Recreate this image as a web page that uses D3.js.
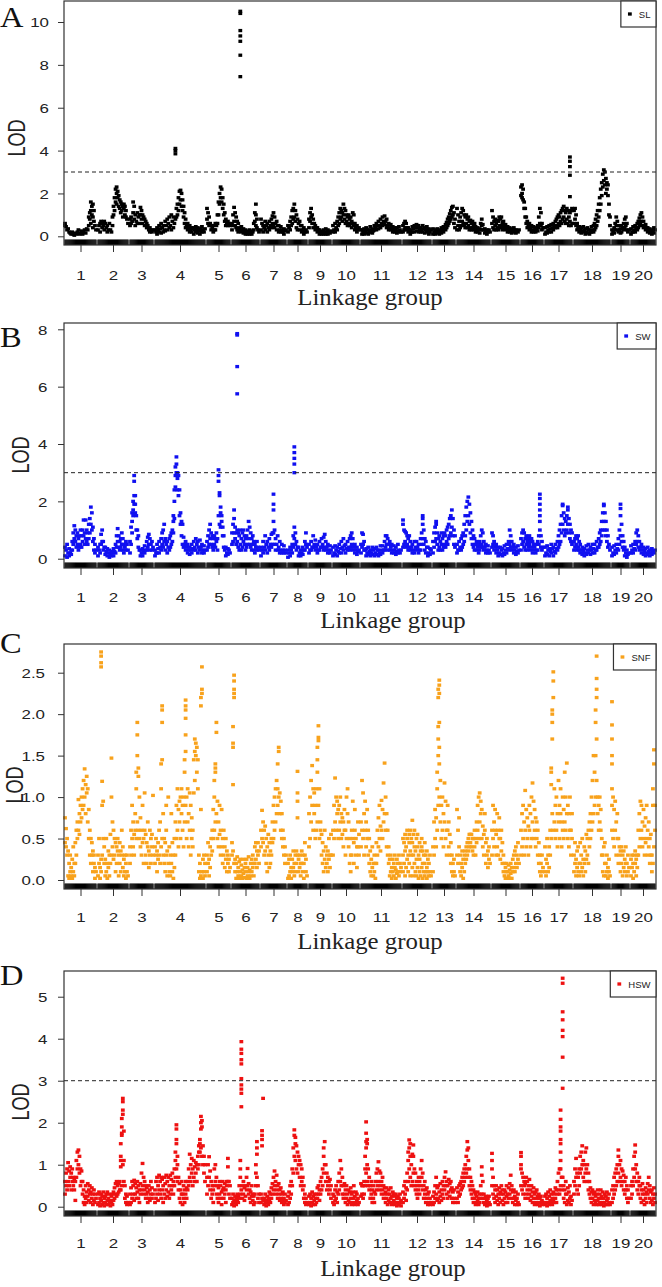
<!DOCTYPE html>
<html><head><meta charset="utf-8">
<script src="https://cdn.jsdelivr.net/npm/d3@7"></script>
<style>body{margin:0;background:#fff}svg{display:block}</style>
</head><body>
<svg id="chart" width="662" height="1287"></svg>
<script>
// ---------------- DATA ----------------
const linkageGroups = ["1","2","3","4","5","6","7","8","9","10","11","12","13","14","15","16","17","18","19","20"];
const groupLengths = [31,30,23,50,23,27,25,19,22,26,40,28,22,33,27,22,27,36,17,24];
const lodThreshold = 3;
const yTicksSL = [0,2,4,6,8,10];
const yTicksSW = [0,2,4,6,8];
const yTicksSNF = [0,0.5,1,1.5,2,2.5];
const yTicksHSW = [0,1,2,3,4,5];

// each linkage group: marker positions in order; an inner list = several markers at one position
const lodSL = [
[[0.6,0.5],0.45,0.3,0.35,0.2,0.15,0.1,0.2,0.1,0.05,0.15,0.1,0.2,0.3,0.1,0.15,0.25,0.1,0.2,0.3,0.15,0.35,0.3,[0.5,0.9],[0.8,1.1],[1.2,1.6,0.6],[1.4,1.0],[1.5,0.9,0.4],[1.2,0.7],0.5,0.3],
[0.3,0.5,[0.2,0.6],0.7,[0.4,0.6],0.5,[0.3,0.7],0.6,0.4,[0.2,0.5],0.3,0.6,0.3,0.2,[0.5,0.9],[1.0,1.4],[1.2,1.8],[1.6,2.2],[2.0,2.3,1.5],[1.8,2.1],[1.4,1.9],[1.3,1.7],[1.1,1.6],[1.2,1.5],[0.9,1.4],[1.3,1.5],[1.0,1.4],[0.9,1.2],0.8,0.6],
[[0.5,0.8],[0.6,0.9],0.7,[1.1,1.6],[0.8,1.4],[0.5,1.0],0.7,[0.6,1.1],0.9,[0.6,1.0],[1.0,1.35],[0.8,1.2],[0.6,1.0],0.9,[0.5,0.8],0.7,[0.4,0.6],0.5,0.3,[0.2,0.4],0.3,0.2,0.3],
[0.3,0.2,[0.1,0.4],0.3,[0.2,0.5],0.35,[0.15,0.6],0.4,[0.2,0.5],0.3,[0.25,0.7],0.5,[0.3,0.8],0.6,[0.4,0.9],0.5,[0.3,1.0],0.7,[0.4,0.9],0.6,[0.8,4.1,4.0,3.85],[0.9,1.3],[1.0,1.5],[1.2,1.8],[1.5,2.1],[1.7,2.15],[1.4,2.0],[1.2,1.7],[0.9,1.4],[0.6,1.1],[0.4,0.8],0.5,[0.3,0.6],0.4,[0.2,0.5],0.3,[0.2,0.4],0.35,[0.1,0.4],0.3,[0.2,0.45],0.3,[0.15,0.4],0.25,[0.1,0.35],0.3,[0.2,0.45],0.3,0.2,0.35],
[[0.8,1.3],[0.6,1.1],[0.5,0.9],0.6,[0.3,0.5],0.4,[0.2,0.5],0.3,[0.3,0.6],0.5,[0.6,1.0],[1.0,1.6],[1.5,2.0],[1.8,2.3],[1.6,2.2],[1.3,1.8],[1.0,1.5],[0.7,1.1],[0.5,0.8],0.6,[0.5,0.7],0.6,0.5],
[[0.3,0.6],[0.5,1.0],[0.7,1.35],[0.5,1.1],[0.4,0.9],[0.3,0.7],[0.2,0.6],0.4,[10.5,10.4,9.6,9.35,9.1,8.45,7.45,0.3],[0.2,0.45],0.3,[0.15,0.35],0.2,[0.1,0.3],0.2,[0.1,0.25],0.15,[0.1,0.3],0.2,[0.1,0.25],0.2,[0.3,0.6],[0.7,1.1],[1.0,1.5,0.5],[0.4,0.8],0.3,0.2],
[[0.3,0.8],0.6,[0.2,0.5],0.4,[0.3,0.7],0.5,[0.2,0.6],0.4,[0.3,0.7],0.5,[0.4,0.8],[0.6,0.95],[0.5,1.1],[0.4,0.9],0.6,[0.3,0.7],0.5,[0.2,0.5],0.3,[0.2,0.45],0.3,0.2,[0.1,0.35],0.25,0.3],
[[0.2,0.5],0.4,[0.3,0.7],[0.5,0.9],[0.6,1.2],[0.8,1.3],[0.9,1.5],[0.7,1.2],[0.4,1.0],[0.3,0.8],0.6,[0.3,0.7],0.5,[0.2,0.5],0.3,[0.1,0.4],0.2,0.3,0.2],
[[0.4,0.8],[0.7,1.1],[0.9,1.3],[0.6,1.0],[0.4,0.8],0.6,[0.3,0.5],0.4,[0.2,0.4],0.3,[0.1,0.3],0.2,[0.1,0.25],0.15,[0.1,0.3],0.2,[0.1,0.35],0.2,[0.1,0.3],0.2,0.15,0.25],
[[0.2,0.5],0.3,[0.2,0.6],0.4,[0.3,0.7],[0.5,0.9],[0.6,1.1],[0.8,1.3],[0.9,1.2],[0.7,1.1],[1.0,1.5],[0.8,1.3],[0.6,1.2],[0.7,1.0],[0.5,0.9],[0.6,1.0],[0.5,0.8],[0.6,0.9],[0.4,0.7],[0.6,1.1],[0.5,1.0],[0.3,0.6],0.4,[0.2,0.5],0.3,0.4],
[0.3,[0.1,0.3],0.2,[0.1,0.35],0.25,[0.15,0.4],0.3,[0.1,0.3],0.2,[0.2,0.45],0.3,[0.15,0.35],0.25,[0.3,0.5],0.4,[0.3,0.6],0.5,[0.35,0.7],0.5,[0.4,0.8],0.6,[0.5,0.9],0.7,[0.55,0.95],0.7,[0.4,0.8],0.5,[0.3,0.6],0.4,[0.3,0.55],0.4,[0.2,0.45],0.3,[0.2,0.4],0.3,[0.15,0.4],0.25,[0.2,0.45],0.3,0.2],
[[0.2,0.5],[0.3,0.6],[0.4,0.7],[0.3,0.6],0.4,[0.2,0.4],0.3,[0.1,0.3],0.2,[0.2,0.45],0.35,[0.2,0.5],0.4,[0.25,0.55],0.4,[0.2,0.5],0.3,[0.2,0.4],0.3,[0.2,0.5],0.35,[0.15,0.4],0.3,[0.2,0.45],0.3,[0.1,0.35],0.2,0.3],
[[0.1,0.35],0.2,[0.1,0.3],0.2,[0.15,0.35],0.25,[0.1,0.3],0.2,[0.15,0.4],0.3,[0.2,0.45],0.35,[0.3,0.55],[0.4,0.65],[0.5,0.8],[0.6,0.9],[0.7,1.05],[0.8,1.2],[0.9,1.35],[1.0,1.4],[0.6,1.1],[0.4,0.8]],
[[0.3,1.3],[0.5,1.0],[0.3,0.7],[0.4,0.9],[0.5,1.1],[0.7,1.3],[0.6,1.2],[0.5,1.0],[0.4,0.9],[0.6,1.0],[0.4,0.8],[0.5,0.9],[0.3,0.7],[0.4,0.75],[0.3,0.6],[0.4,0.7],[0.3,0.5],[0.4,0.6],[0.2,0.45],0.3,[0.2,0.4],0.3,[0.15,0.35],[0.3,0.6],[0.5,0.8],[0.3,0.55],0.3,[0.15,0.35],0.25,[0.1,0.3],0.2,0.3,0.2],
[[0.6,1.2],[0.4,0.9],[0.3,0.7],[0.5,0.8],[0.3,0.6],[0.4,0.75],[0.3,0.7],[0.5,0.9],[0.4,0.8],[0.5,0.9],[0.3,0.65],[0.4,0.7],0.5,[0.3,0.55],0.4,[0.2,0.45],0.3,[0.2,0.4],0.3,[0.15,0.35],0.25,[0.2,0.4],0.3,[0.15,0.3],0.25,0.2,0.3],
[[1.9,2.3],[2.0,2.4,1.8],[1.7,2.2],[1.3,1.6],[0.9,1.3],[0.6,0.9],[0.4,0.7],0.5,[0.3,0.6],0.4,[0.2,0.5],0.3,[0.2,0.45],0.3,[0.2,0.4],0.3,[0.25,0.5],[0.4,0.9],[0.6,1.3],[0.5,1.1],[0.3,0.6],0.4],
[[0.1,0.4],0.2,[0.15,0.45],0.3,[0.2,0.5],0.35,[0.2,0.55],0.4,[0.3,0.6],0.5,[0.4,0.7],[0.5,0.8],[0.4,0.9],[0.6,1.0],[0.5,0.9],[0.7,1.1],[0.6,1.2],[0.8,1.3],[0.9,1.4],[0.7,1.2],[0.6,1.1],[0.8,1.3],[0.6,1.2],[0.5,0.9],[0.7,1.1,1.85,2.85,3.25,3.5,3.7],[0.5,1.2],[0.6,1.3]],
[[0.6,1.2],[0.8,1.3],[0.5,1.0],[0.3,0.6],0.4,[0.2,0.45],0.3,[0.15,0.4],0.25,[0.2,0.45],0.3,[0.1,0.35],0.2,[0.15,0.4],0.3,[0.1,0.3],0.2,[0.2,0.45],0.3,[0.2,0.5],[0.3,0.6],[0.4,0.8],[0.5,1.0],[0.7,1.2],[0.9,1.5],[1.2,1.8],[1.5,2.2],[1.9,2.5],[2.3,2.9],[2.6,3.1],[2.4,3.0],[2.0,2.7],[2.2,2.5],[1.9,2.4],[1.0,1.5],[0.5,0.9]],
[[0.1,0.3],0.2,[0.15,0.4],[0.3,0.6],[0.5,0.9],[0.3,0.7],[0.2,0.5],0.3,[0.15,0.35],[0.2,0.5],0.4,[0.3,0.6],[0.4,0.8],[0.5,0.9],[0.3,0.6],0.2,0.3],
[[0.1,0.35],0.2,[0.2,0.45],0.3,[0.2,0.5],0.4,[0.3,0.6],[0.4,0.7],[0.5,0.85],[0.6,1.0],[0.7,1.1],[0.5,0.9],[0.4,0.7],0.5,[0.3,0.55],0.4,[0.2,0.4],0.3,[0.15,0.35],0.25,[0.1,0.3],0.2,[0.15,0.4],0.3]
];

const lodSW = [
[[0.1,0.4],0.3,[0.05,0.5],0.2,[0.1,0.35],0.2,[0.15,0.3],[0.3,0.6],[0.5,0.9],[0.7,1.15],[0.6,1.0],[0.4,0.8],[0.5,0.9],[0.3,0.7],[0.4,0.8],[0.5,1.0],[0.4,0.8],[0.6,1.0],[0.8,1.35],[0.5,0.9],[0.7,1.35],[0.6,1.0],[0.5,0.9],[0.7,1.2],[0.9,1.4],[1.2,1.8],[1.0,1.6],[0.6,1.1],[0.3,0.7],[0.2,0.5],0.3],
[[0.1,0.4],0.3,[0.2,0.5],[0.5,0.85],[0.6,1.0],[0.3,0.6],0.4,[0.15,0.4],0.25,[0.1,0.35],0.2,[0.05,0.3],0.15,[0.1,0.25],0.2,[0.1,0.35],0.25,[0.2,0.5],[0.4,0.8],[0.6,1.05],[0.4,0.8],[0.3,0.6],[0.4,0.7],[0.5,0.9],[0.3,0.7],[0.2,0.5],0.4,[0.3,0.6],0.5,0.3],
[[0.2,0.6],[0.5,1.1],[0.9,1.6,1.3],[1.5,2.0,1.7],[1.9,2.9,2.7,2.2],[1.6,2.2,1.9],[1.0,1.5],[0.7,1.0],[0.4,0.8],0.3,[0.1,0.3],0.2,[0.1,0.35],0.25,[0.2,0.45],0.3,[0.3,0.6],[0.4,0.75],[0.5,0.85],[0.3,0.7],0.5,[0.3,0.6],0.4],
[[0.1,0.3],0.2,[0.2,0.5],0.35,[0.2,0.6],0.4,[0.3,0.7],[0.5,0.9],[0.4,1.0],[0.6,1.2],[0.3,0.7],0.5,[0.2,0.6],0.4,[0.3,0.7],[0.4,0.8],[0.5,0.9],[0.6,1.0],[0.9,1.5,1.3],[1.4,2.4,2.0],[2.5,3.2,2.9],[3.0,3.55,3.3],[2.4,3.0,2.8],[2.2,2.9],[1.5,2.4],[1.2,1.6],[0.8,1.3],[0.5,1.2],[0.4,0.75],0.5,[0.3,0.6],0.4,[0.2,0.5],0.3,[0.15,0.4],0.3,[0.2,0.5],0.35,[0.3,0.6],0.4,[0.3,0.7],0.5,[0.2,0.6],0.4,[0.3,0.65],0.4,[0.2,0.5],0.3,[0.2,0.45],0.3],
[[0.3,0.6],[0.4,0.8],[0.5,1.0],[0.7,1.2],[0.5,0.9],[0.4,0.8],[0.3,0.7],[0.5,0.8],[0.4,0.7],[0.6,0.9],[0.3,0.7],[1.5,3.1,2.9,2.7],[1.2,2.3,2.2],[1.1,1.8,1.6],[1.3,1.5],[0.8,1.1],[0.4,0.8],0.3,[0.1,0.4],0.2,[0.15,0.35],0.3,0.2],
[[0.5,0.9],[0.6,1.2],[0.9,1.7,1.4],[0.7,1.1],[0.5,0.9],[0.6,1.0,5.75,6.7,7.8,7.85],[0.4,0.9],[0.3,0.8],[0.5,1.0],[0.3,0.7],[0.4,0.9],[0.6,1.0],[0.5,0.8],[0.3,0.7],[0.4,0.8],[0.5,1.0],[0.7,1.3],[0.5,1.1],[0.4,0.9],[0.3,0.7],[0.5,0.8],[0.3,0.6],[0.2,0.5],0.4,[0.3,0.6],0.4,0.3],
[[0.1,0.4],0.3,[0.2,0.6],0.4,[0.3,0.8],0.5,[0.2,0.6],0.4,[0.3,0.7],0.5,[0.4,0.85],[0.5,0.9],[0.9,1.3,1.7,1.9,2.25],[0.5,1.0],[0.3,0.7],0.5,[0.3,0.8],0.4,[0.2,0.6],0.3,[0.2,0.5],0.3,[0.2,0.45],0.3,0.2],
[[0.05,0.3],0.2,[0.1,0.4],0.3,[0.2,0.5],[0.4,0.8],[0.7,1.1,3.0,3.3,3.5,3.7,3.9],[0.5,0.9],[0.3,0.6],0.4,[0.1,0.4],0.2,[0.1,0.3],0.2,[0.15,0.4],0.3,[0.3,0.6],[0.5,0.9],0.4],
[[0.2,0.5],0.3,[0.3,0.6],0.4,[0.4,0.8],0.5,[0.3,0.65],0.4,[0.2,0.5],0.3,[0.3,0.6],0.4,[0.4,0.7],0.5,[0.3,0.75],[0.4,0.85],[0.3,0.6],0.4,[0.2,0.5],0.3,[0.2,0.45],0.3],
[[0.1,0.4],0.2,[0.15,0.45],0.3,[0.1,0.4],0.25,[0.2,0.5],0.35,[0.2,0.6],0.4,[0.3,0.7],0.45,[0.2,0.5],0.35,[0.3,0.6],0.4,[0.3,0.7],[0.4,0.8],[0.5,0.9],[0.3,0.7],0.4,[0.2,0.5],0.3,[0.15,0.4],0.25,0.3],
[[0.2,0.5],[0.4,0.9],[0.5,0.85],[0.3,0.6],0.3,[0.1,0.35],0.2,[0.15,0.4],0.25,[0.1,0.3],0.2,[0.15,0.4],0.3,[0.1,0.35],0.2,[0.15,0.4],0.3,[0.1,0.3],0.2,[0.15,0.45],0.3,[0.2,0.45],0.3,[0.3,0.6],[0.4,0.8],[0.5,0.8],[0.3,0.7],0.5,[0.3,0.6],0.4,[0.2,0.5],0.3,[0.2,0.45],0.3,[0.15,0.4],0.25,[0.2,0.5],0.3,0.2,0.3],
[[0.4,1.35,1.2],[0.5,1.0],[0.6,0.95],[0.4,0.9],[0.5,0.8],[0.3,0.7],[0.4,0.8],[0.3,0.6],0.4,[0.2,0.5],0.3,[0.2,0.6],0.4,[0.3,0.6],0.4,[0.2,0.5],0.3,[0.3,0.7],[0.5,0.9],[0.7,1.5,1.4,1.2],[0.5,1.0],[0.3,0.7],[0.2,0.6],0.4,[0.1,0.4],0.2,[0.15,0.35],0.3],
[[0.2,0.6],[0.4,0.9],[0.6,1.1],[0.7,1.3,1.2],[0.5,0.9],[0.3,0.7],[0.4,0.8],[0.3,0.6],[0.5,0.9],[0.3,0.7],[0.4,0.8],[0.5,0.9],[0.4,0.8],[0.6,1.0],[0.5,1.1],[0.7,1.2],[0.8,1.4],[0.9,1.5],[1.1,1.7],[0.8,1.4],[0.5,1.0],[0.4,0.8]],
[[0.2,0.5],0.3,[0.3,0.6],0.4,[0.3,0.7],[0.4,0.8],[0.5,0.9],[0.6,1.2],[0.8,1.5],[1.0,1.8],[1.3,2.0],[1.5,2.15],[1.2,1.9],[0.9,1.6],[0.7,1.3],[0.5,1.0],[0.4,0.8],[0.3,0.7],0.5,[0.3,0.6],0.4,[0.2,0.5],[0.3,0.6],[0.4,0.8],[0.5,1.0],[0.4,0.9],[0.3,0.6],0.4,[0.2,0.5],0.3,[0.2,0.45],0.3,0.2],
[[0.4,0.9],[0.5,0.8],[0.3,0.6],0.4,[0.2,0.5],0.3,[0.1,0.4],0.2,[0.15,0.4],0.3,[0.1,0.35],0.2,[0.15,0.45],0.3,[0.2,0.5],0.35,[0.3,0.6],[0.5,1.0],[0.4,0.8],[0.3,0.6],0.4,[0.2,0.5],0.3,[0.15,0.4],0.25,[0.2,0.45],0.3],
[[0.3,0.7],[0.5,0.9],[0.6,1.0],[0.4,0.9],[0.3,0.7],[0.5,0.8],[0.3,0.6],[0.4,0.7],[0.5,0.8],[0.3,0.6],[0.4,0.7],[0.2,0.6],[0.3,0.5],0.4,[0.2,0.5],0.3,[0.3,0.6],[0.5,0.8],[1.0,1.3,1.5,1.7,1.9,2.1,2.25],[0.4,0.8],[0.3,0.6],0.4],
[[0.1,0.4],0.2,[0.15,0.45],0.3,[0.1,0.35],0.25,[0.2,0.5],0.35,[0.1,0.4],0.25,[0.2,0.5],0.35,[0.3,0.6],[0.4,0.8],[0.5,1.0],[0.6,1.2],[0.9,1.5],[1.2,1.9,1.85],[1.0,1.6],[0.8,1.4],[0.9,1.3],[1.0,1.5],[1.2,1.8,1.7],[0.9,1.4],[0.7,1.2],[0.6,1.0],[0.5,0.9]],
[[0.3,0.6],[0.4,0.7],[0.5,0.8],[0.3,0.7],[0.4,0.8],[0.3,0.6],[0.2,0.5],0.3,[0.15,0.4],0.25,[0.1,0.35],0.2,[0.15,0.45],0.3,[0.2,0.5],0.3,[0.15,0.4],0.3,[0.2,0.5],0.35,[0.2,0.5],0.3,[0.3,0.6],0.4,[0.4,0.7],[0.5,0.9],[0.6,1.0],[0.8,1.3],[1.0,1.6],[1.3,1.9,1.85],[1.0,1.6],[0.8,1.3],[0.6,1.0],[0.4,0.8],0.5,0.3],
[[0.1,0.4],0.2,[0.15,0.45],0.3,[0.2,0.5],0.35,[0.3,0.7],[0.5,1.0],[0.8,1.5,1.9,1.75],[0.6,1.2],[0.4,0.8],[0.3,0.6],[0.1,0.4],0.2,[0.05,0.3],0.15,0.2],
[[0.2,0.45],0.3,[0.2,0.5],0.35,[0.3,0.6],[0.5,0.9],[0.6,1.0],[0.4,0.8],[0.3,0.6],0.4,[0.2,0.5],0.3,[0.15,0.4],0.25,[0.1,0.35],0.2,[0.15,0.4],0.25,[0.1,0.3],0.2,[0.15,0.35],0.25,0.2,0.3]
];

const lodSNF = [
[[0.45,0.75],[0.4,0.62],[0.3,0.5],[0.05,0.35],[0.02,0.2],[0.1,0.3],[0.05,0.15],[0.02,0.25],[0.1,0.4],[0.05,0.2],[0.2,0.45],[0.3,0.6],[0.5,0.7],[0.6,0.97],[0.55,0.8],[0.7,0.9],[0.75,1.0],[0.85,1.1],[0.9,1.2],[1.0,1.34],[0.8,1.15],[1.05,1.25],[0.7,1.1],[0.5,0.85],[0.3,0.6],[0.2,0.5],[0.3,0.45],[0.1,0.35],[0.2,0.3],[0.02,0.15],0.1],
[[0.05,0.3],[0.2,0.5],[0.02,0.15],[0.1,0.25,2.57,2.62,2.7,2.75],[0.3,0.9,1.19],[0.5,0.95],[0.2,0.4],[0.05,0.25],[0.1,0.5],[0.02,0.2],[0.15,0.35],[0.05,0.3],[0.2,0.55],[0.3,1.0,1.47],[0.4,0.7],[0.25,0.6],[0.3,0.5],[0.1,0.45],[0.2,0.4],[0.35,0.5],[0.05,0.3],[0.2,0.45],[0.1,0.35],[0.3,0.6],[0.15,0.4],[0.05,0.25],[0.1,0.3],[0.02,0.2],[0.1,0.3],0.05],
[[0.2,0.4],[0.3,0.6],[0.5,0.9],[0.4,0.7],[0.3,0.55],[0.6,0.8],[0.5,1.1,1.3],[0.7,1.5,1.75,1.9],[0.6,1.25,1.35],[0.5,1.0],[0.4,0.75],[0.3,0.6],[0.45,0.9],[0.2,0.5],[0.6,1.05],[0.3,0.55],[0.2,0.45],[0.4,0.7],[0.15,0.35],[0.3,0.6],[0.2,0.5],[0.4,0.55],[0.3,1.02]],
[[0.2,0.4],[0.3,0.5],[0.1,0.35],[0.25,0.45],[0.3,0.6],[0.2,0.7],[0.4,1.1,1.4],[0.5,1.45,1.9,2.05,2.1],[0.3,0.8],[0.2,0.5],[0.1,0.45],[0.3,0.6,0.9],[0.05,0.35],[0.2,1.0],[0.1,0.4],[0.05,0.3],[0.2,0.8],[0.1,0.45],[0.02,0.3],[0.15,0.5],[0.3,0.7],[0.5,0.9],[0.6,1.1],[0.4,0.85],[0.7,0.95],[0.5,1.0],[0.8,1.1],[0.6,0.9],[0.4,1.0],[0.7,1.3,1.45],[0.9,1.55,1.75,1.95,2.05,2.1,2.17],[0.5,1.0],[0.7,1.1],[0.4,0.8],[0.6,1.05],[0.3,0.9],[0.5,0.75],[0.4,0.6],[1.05,1.45],[1.2,1.55,1.7],[1.5,1.65],[1.3,1.6],[1.1,1.45],[0.1,0.3],[0.02,0.2],[0.05,0.85,2.1,2.2],[0.1,2.25,2.3,2.57],[0.02,0.25],[0.1,0.3],[0.05,0.2]],
[[0.1,0.3],[0.2,0.45],[0.05,0.25],[0.15,0.4],[0.3,0.5],[0.35,0.6],[0.5,0.85],[0.6,1.0,1.2],[0.7,1.3,1.35,1.4],[0.8,1.78,1.9],[0.5,0.95],[0.4,0.7],[0.55,0.9],[0.3,0.6],[0.4,0.85],[0.2,0.5],[0.3,0.6],[0.15,0.4],[0.25,0.5],[0.1,0.35],[0.2,0.3],[0.1,0.25],0.15],
[[0.3,0.45],[0.35,1.15,1.6,1.65,1.85],[0.2,2.2,2.25,2.3,2.4,2.47],[0.1,0.25],[0.02,0.2],[0.1,0.28],[0.05,0.15],[0.02,0.22],[0.1,0.25],[0.05,0.18],[0.02,0.12],[0.08,0.25],[0.03,0.15],[0.1,0.2],[0.02,0.25],[0.05,0.15],[0.1,0.28],[0.02,0.12],[0.05,0.2],[0.1,0.25],[0.15,0.3],[0.05,0.2],[0.2,0.4],[0.25,0.45],[0.15,0.35],[0.3,0.45],[0.2,0.35]],
[[0.4,0.6],[0.5,0.84],[0.45,0.7],[0.3,0.6],[0.35,0.65],[0.2,0.5],[0.1,0.4],[0.3,0.55],[0.15,0.45],[0.2,0.35],[0.3,0.5],[0.45,0.7],[0.5,0.9],[0.6,1.0],[0.7,1.1],[0.8,1.2],[0.9,1.1,1.4],[1.0,1.55,1.6],[0.8,1.05],[0.6,0.95],[0.5,0.8],[0.4,0.6],[0.3,0.5],[0.2,0.4],0.3],
[[0.02,0.2],[0.05,0.25],[0.1,0.3],[0.02,0.15],[0.1,0.25],[0.15,0.35],[0.05,0.2],[0.1,0.3],[0.2,0.35],[0.3,0.75,0.95,1.05,1.31],[0.1,0.25],[0.15,0.3],[0.05,0.2],[0.2,0.35],[0.1,0.3],[0.02,0.2],[0.3,0.45],[0.1,0.25],0.05],
[[0.4,0.8],[0.5,1.0],[0.7,1.2],[0.9,1.38],[0.6,1.1],[0.8,1.05],[0.5,0.9],[0.6,1.1],[0.7,1.3,1.45,1.6],[0.9,1.68,1.72,1.86],[0.5,1.1],[0.6,0.7],[0.3,0.55],[0.2,0.45],[0.1,0.35],[0.25,0.6],[0.15,0.4],[0.2,0.3],[0.1,0.35],[0.25,0.5],[0.15,0.3],[0.3,0.55]],
[[0.3,0.6],[0.5,0.9],[0.7,1.23],[0.6,1.0],[0.8,0.95],[0.5,0.85],[0.6,0.9],[0.7,1.0],[0.5,0.8],[0.55,0.75],[0.4,0.7],[0.6,0.85],[0.3,0.6],[0.5,1.0],[0.8,1.1],[0.4,0.7],[0.2,0.5],[0.1,0.3],[0.3,0.6],[0.5,0.95],[0.2,0.45],[0.6,0.85],[0.3,0.5],[0.15,0.4],[0.4,0.7],[0.3,0.55]],
[[0.4,0.7],[0.6,1.2],[0.5,1.05],[0.3,0.8],[0.6,0.95],[0.4,0.7],[0.5,0.85],[0.3,0.6],[0.2,0.5],[0.1,0.35],[0.05,0.25],[0.15,0.4],[0.05,0.2],[0.1,0.3],[0.02,0.2],[0.2,0.45],[0.3,0.6],[0.4,0.75],[0.5,0.9],[0.35,0.65],[0.6,0.96],[0.5,0.85],[0.7,1.17],[0.8,1.41],[0.6,1.0],[0.4,0.8],[0.3,0.6],[0.2,0.4],[0.05,0.25],[0.1,0.3],[0.02,0.15],[0.1,0.25],[0.05,0.2],[0.15,0.3],[0.02,0.12],[0.08,0.25],[0.1,0.2],[0.05,0.3],[0.1,0.2],0.15],
[[0.1,0.3,0.5],[0.2,0.45],[0.05,0.35,0.55],[0.15,0.4],[0.25,0.5,0.6],[0.1,0.3],[0.2,0.45,0.55],[0.05,0.35,0.6],[0.3,0.5],[0.15,0.45,0.72],[0.05,0.3,0.55],[0.2,0.4,0.6],[0.1,0.35],[0.05,0.25,0.5],[0.15,0.4,0.55],[0.02,0.3],[0.1,0.25,0.45],[0.05,0.35],[0.15,0.4,0.5],[0.02,0.2,0.35],[0.1,0.3],[0.05,0.2,0.45],[0.1,0.3],[0.02,0.15,0.35],[0.1,0.25],[0.05,0.2],[0.1,0.3],0.05],
[[0.1,0.4],[0.3,0.7],[0.5,0.85],[0.4,0.75],[0.6,1.1,1.3],[0.9,1.5,1.7,1.85,2.2,2.3],[1.0,1.4,1.6,1.9,2.25,2.35,2.41],[0.7,1.2],[0.5,0.9],[0.6,1.0],[0.4,0.8],[0.7,1.17],[0.5,0.95],[0.3,0.6],[0.6,0.9],[0.4,0.7],[0.3,0.55],[0.2,0.45],[0.1,0.3],[0.05,0.2],[0.1,0.25],0.05],
[[0.3,0.85],[0.2,0.6],[0.4,0.75],[0.1,0.3],[0.05,0.2],[0.15,0.35],[0.02,0.25],[0.1,0.3],[0.2,0.35],[0.25,0.4],[0.3,0.45],[0.35,0.5],[0.4,0.55],[0.45,0.55],[0.4,0.55],[0.35,0.5],[0.3,0.5],[0.4,0.6],[0.3,0.5],[0.45,0.7],[0.6,0.9],[0.5,1.0],[0.7,1.05],[0.8,0.95],[0.5,0.85],[0.4,0.65],[0.3,0.55],[0.6,0.8],[0.2,0.45],[0.3,0.5],[0.15,0.35],[0.25,0.4],0.2],
[[0.3,0.6],[0.5,0.9],[0.4,0.7],[0.6,0.85],[0.3,0.55],[0.4,0.8],[0.3,0.6],[0.5,0.75],[0.25,0.5],[0.35,0.6],[0.2,0.45],[0.1,0.3],[0.05,0.2],[0.02,0.15],[0.1,0.2],[0.02,0.1],[0.05,0.18],[0.02,0.12],[0.08,0.2],[0.02,0.15],[0.1,0.25],[0.15,0.3],[0.1,0.35],[0.2,0.4],[0.15,0.3],[0.25,0.45],0.2],
[[0.3,0.6],[0.4,0.8],[0.5,0.9],[0.3,0.7],[0.6,1.08],[0.4,0.85],[0.5,0.75],[0.3,0.65],[0.6,0.9],[0.4,0.8],[0.5,1.0],[0.7,1.17],[0.5,0.95],[0.6,0.85],[0.4,0.75],[0.5,0.7],[0.3,0.6],[0.2,0.45],[0.1,0.3],[0.05,0.2],[0.1,0.3],0.15],
[[0.1,0.4],[0.05,0.25],[0.2,0.5],[0.1,0.3],[0.15,0.4],[0.3,0.6],[0.5,1.15,1.3,1.35],[0.8,1.7,1.9,2.0,2.05],[0.6,2.2,2.4,2.51],[0.7,1.1],[0.5,0.9],[0.6,1.0],[0.4,0.8],[0.7,1.2],[0.5,0.9],[0.8,1.1],[0.4,0.7],[0.6,1.0],[0.5,0.85],[0.7,1.3],[0.6,1.0],[0.8,1.41],[0.5,0.9],[0.4,0.8],[0.6,1.0],[0.3,0.6],[0.5,0.8]],
[[0.1,0.3],[0.2,0.45],[0.05,0.25],[0.15,0.35],[0.1,0.4],[0.05,0.2],[0.2,0.45],[0.1,0.3],[0.15,0.5],[0.05,0.25],[0.2,0.4],[0.1,0.35],[0.25,0.55],[0.3,0.5],[0.2,0.6],[0.4,0.7],[0.5,0.8],[0.6,1.0],[0.7,1.2],[0.8,1.5],[0.9,1.3],[1.0,1.5,1.9,2.05],[1.2,1.7,2.2,2.3,2.43,2.7],[0.8,1.0],[0.6,0.9],[0.7,1.0],[0.6,0.85],[0.3,0.5],[0.1,0.3],[0.05,0.4],[0.2,0.45],[0.05,0.2],[0.1,0.3],[0.02,0.15],[0.1,0.25],0.05],
[[0.6,0.9,1.1,1.4,1.5,1.7,1.87,2.15],[0.5,1.0],[0.4,0.85],[0.6,0.95],[0.3,0.7],[0.5,0.8],[0.2,0.5],[0.3,0.4],[0.1,0.35],[0.2,0.4],[0.05,0.3],[0.15,0.35],[0.1,0.25],[0.2,0.4],[0.05,0.2],[0.1,0.3],0.15],
[[0.05,0.25],[0.15,0.3],[0.02,0.2],[0.1,0.3],[0.2,0.35],[0.05,0.25],[0.15,0.3],[0.3,0.6],[0.4,0.8],[0.5,0.95],[0.6,0.9],[0.4,0.7],[0.5,0.85],[0.3,0.65],[0.45,0.75],[0.5,0.9],[0.3,0.6],[0.4,0.7],[0.2,0.5],[0.3,0.55],[0.1,0.3],[0.2,0.9,1.1],[0.4,1.4,1.57],[0.6,0.9]]
];

const lodHSW = [
[[0.3,0.6],[0.5,0.8],[0.4,0.9],[0.6,1.05],[0.5,0.85],[0.7,0.95],[0.4,0.8],[0.6,0.9],[0.5,0.7],[0.4,0.65],[0.15,0.6],[0.7,1.1],[0.9,1.3],[1.0,1.35],[0.8,1.2],[0.5,0.9],[0.6,0.85],[0.3,0.6],[0.1,0.4],[0.05,0.25],[0.2,0.5],[0.1,0.35],[0.25,0.55],[0.15,0.4],[0.3,0.5],[0.1,0.35],[0.2,0.45],[0.05,0.3],[0.15,0.4],[0.1,0.3],0.2],
[[0.05,0.3],[0.1,0.35],[0.02,0.2],[0.15,0.3],[0.05,0.25],[0.1,0.35],[0.02,0.2],[0.1,0.25],[0.05,0.3],[0.15,0.35],[0.05,0.2],[0.1,0.3],[0.02,0.15],[0.1,0.25],[0.05,0.3],[0.15,0.35],[0.2,0.45],[0.3,0.55],[0.25,0.6],[0.3,0.5],[0.35,0.55],[0.4,0.6],[0.4,0.95,1.1,1.2,1.5],[0.5,1.7,1.75,1.9,2.1],[1.0,2.2,2.3,2.5,2.58],[0.6,1.1,1.8],[0.2,0.5],[0.1,0.3],[0.05,0.25],0.1],
[[0.05,0.3],[0.1,0.45],[0.2,0.6],[0.3,0.5],[0.15,0.63],[0.3,0.55],[0.2,0.45],[0.35,0.6],[0.2,0.5],[0.1,0.4],[0.3,0.55],[0.4,0.8],[0.5,1.03],[0.3,0.7],[0.4,0.6],[0.2,0.5],[0.3,0.45],[0.1,0.35],[0.2,0.5],[0.15,0.4],[0.3,0.6],[0.2,0.45],0.3],
[[0.1,0.4],[0.2,0.6],[0.3,0.7],[0.15,0.5],[0.4,0.75],[0.3,0.6],[0.2,0.7],[0.4,0.65],[0.1,0.5],[0.3,0.7],[0.2,0.55],[0.4,0.75],[0.25,0.6],[0.35,0.7],[0.2,0.5],[0.3,0.75],[0.4,0.65],[0.5,0.8],[0.3,0.6],[0.5,0.9],[0.7,1.1,1.3],[0.9,1.5,1.6,1.85,1.95],[0.6,1.0,1.2],[0.4,0.7],[0.2,0.55],[0.1,0.4],[0.3,0.6],[0.05,0.3],[0.2,0.5],[0.1,0.4],[0.3,0.6],[0.2,0.45],[0.4,0.6],[0.5,0.9],[0.7,1.25],[0.6,1.0],[0.8,1.15],[0.5,0.9],[0.7,1.1],[0.6,0.95],[0.8,1.05],[0.6,1.0],[0.9,1.2],[1.0,1.3,1.45],[1.3,1.5,1.6],[1.4,1.85,2.0,2.15],[1.2,1.9,2.05],[1.0,1.45],[0.8,1.2],[0.6,1.0]],
[[0.3,0.7],[0.5,1.0],[0.7,1.19],[0.4,0.85],[0.2,0.6],[0.3,0.5],[0.1,0.4],[0.5,0.9],[0.6,1.0],[0.3,0.7],[0.2,0.5],[0.1,0.45],[0.3,0.6],[0.2,0.5],[0.05,0.35],[0.4,0.6],[0.2,0.45],[0.3,0.55],[0.1,0.4],[0.5,0.6],[0.6,0.95,1.15],[0.3,0.6],[0.2,0.5]],
[[0.05,0.2],[0.1,0.3],[0.02,0.15],[0.1,0.25],[0.05,0.2],[0.15,0.3],[0.1,0.25],[0.2,0.5],[0.3,0.7,0.9,1.1],[0.4,2.38,2.7,2.8,2.9,3.05,3.4,3.5,3.65,3.75,3.93],[0.2,0.5],[0.3,0.6],[0.15,0.45],[0.25,0.5],[0.4,0.7],[0.5,0.91],[0.3,0.55],[0.2,0.4],[0.1,0.35],[0.25,0.5],[0.15,0.3],[0.05,0.25],[0.1,0.3],[0.5,0.8,1.0],[0.7,1.25,1.4,1.55],[0.2,0.5],[0.1,0.3]],
[[0.1,0.3],[0.2,1.45,1.6,1.7,1.81],[0.15,2.58],[0.05,0.2],[0.1,0.3],[0.02,0.15],[0.1,0.25],[0.05,0.2],[0.15,0.35],[0.1,0.3],[0.2,0.45],[0.3,0.55],[0.4,0.7],[0.5,0.85],[0.3,0.6],[0.4,0.75],[0.2,0.5],[0.3,0.55],[0.15,0.4],[0.2,0.45],[0.1,0.3],[0.15,0.35],[0.05,0.2],[0.1,0.3],0.15],
[[0.05,0.25],[0.1,0.35],[0.2,0.5],[0.3,0.6],[0.5,0.9],[0.8,1.4],[1.2,1.83,1.7],[1.1,1.65,1.5],[0.9,1.45],[0.8,1.3],[1.0,1.2],[0.7,1.1],[0.5,1.0],[0.6,0.9],[0.4,0.7],[0.2,0.5],[0.1,0.3],[0.05,0.2],0.1],
[[0.05,0.25],[0.1,0.3],[0.02,0.2],[0.1,0.35],[0.05,0.25],[0.15,0.3],[0.05,0.2],[0.1,0.3],[0.2,0.45],[0.3,0.5],[0.15,0.4],[0.3,0.6],[0.4,0.7],[0.5,0.9],[0.8,1.2,1.4],[1.0,1.55],[0.6,1.0],[0.4,0.8],[0.5,0.7],[0.3,0.6],[0.4,0.65],[0.2,0.5]],
[[0.1,0.3],[0.05,0.25],[0.15,0.4],[0.2,0.5],[0.1,0.35],[0.3,0.6],[0.4,0.8],[0.6,1.1],[0.5,0.9],[0.3,0.7],[0.2,0.5],[0.3,0.55],[0.1,0.4],[0.2,0.5],[0.05,0.3],[0.15,0.4],[0.1,0.35],[0.2,0.45],[0.05,0.3],[0.1,0.35],[0.2,0.5],[0.05,0.25],[0.1,0.35],[0.15,0.3],[0.05,0.2],0.1],
[[0.25,0.55],[0.3,0.5],[0.2,0.5],[0.3,0.6],[0.5,0.9,1.2],[0.8,1.4,1.55,1.75,2.02],[0.6,1.0,1.5,1.6],[0.5,0.9],[0.4,0.7],[0.2,0.5],[0.3,0.6],[0.1,0.4],[0.2,0.5],[0.1,0.35],[0.3,0.6],[0.4,0.8],[0.5,0.9],[0.6,1.07],[0.4,0.85],[0.5,0.8],[0.3,0.6],[0.4,0.7],[0.2,0.5],[0.3,0.45],[0.1,0.35],[0.2,0.45],[0.05,0.3],[0.15,0.4],[0.1,0.3],[0.2,0.45],[0.05,0.25],[0.1,0.35],[0.15,0.3],[0.05,0.25],[0.1,0.3],[0.02,0.2],[0.1,0.25],[0.05,0.2],[0.1,0.3],[0.02,0.15]],
[[0.1,0.35],[0.2,0.5],[0.3,0.6],[0.15,0.45],[0.4,0.8],[0.6,1.1,1.3],[0.9,1.4,1.59],[0.7,1.2,1.5],[0.5,1.0],[0.6,1.25],[0.8,1.2,1.47],[0.5,0.9],[0.4,0.8],[0.3,0.6],[0.2,0.5],[0.4,0.7],[0.3,0.6],[0.5,0.9],[0.7,1.1],[0.4,0.8],[0.2,0.5],[0.3,0.6],[0.1,0.4],[0.2,0.45],[0.05,0.3],[0.1,0.35],[0.05,0.2],0.1],
[[0.05,0.25],[0.1,0.35],[0.2,0.5],[0.3,0.7],[0.15,0.45],[0.2,0.5],[0.1,0.35],[0.25,0.55],[0.15,0.4],[0.3,0.6],[0.2,0.5],[0.4,0.7],[0.5,0.83],[0.3,0.6],[0.2,0.5],[0.35,0.65],[0.25,0.55],[0.4,0.6],[0.2,0.45],[0.1,0.35],[0.2,0.4],0.1],
[[0.2,0.45],[0.1,0.35],[0.25,0.5],[0.3,0.55],[0.4,0.6],[0.45,0.7],[0.5,0.8],[0.6,0.9],[0.7,1.0],[0.8,1.2],[0.9,1.35,1.55],[0.7,1.1,1.4],[0.5,0.9],[0.4,0.7],[0.3,0.6],[0.2,0.5],[0.1,0.4],[0.2,0.35],[0.05,0.3],[0.1,0.25],[0.15,0.35],[0.05,0.2],[0.1,0.3],[0.2,0.5],[0.3,0.75,0.95],[0.2,0.6],[0.1,0.3],[0.05,0.2],[0.1,0.25],[0.02,0.15],[0.05,0.2],[0.1,0.25],0.05],
[[0.5,0.9,1.1,1.27],[0.3,0.7],[0.2,0.5],[0.1,0.4],[0.25,0.5],[0.15,0.4],[0.05,0.3],[0.2,0.45],[0.1,0.35],[0.3,0.5],[0.15,0.4],[0.05,0.3],[0.2,0.4],[0.1,0.35],[0.25,0.5],[0.1,0.3],[0.2,0.45],[0.3,0.55],[0.4,0.75],[0.2,0.5],[0.1,0.35],[0.2,0.4],[0.05,0.25],[0.15,0.35],[0.05,0.2],[0.1,0.3],0.05],
[[0.5,0.9,1.0,1.2,1.29],[0.4,0.8],[0.3,0.7],[0.5,0.6],[0.2,0.55],[0.3,0.7],[0.4,0.6],[0.2,0.5],[0.3,0.65],[0.15,0.4],[0.25,0.5],[0.1,0.35],[0.2,0.45],[0.05,0.3],[0.1,0.35],[0.2,0.4],[0.05,0.25],[0.1,0.3],[0.02,0.2],[0.1,0.25],[0.05,0.15],0.1],
[[0.05,0.25],[0.1,0.3],[0.02,0.2],[0.1,0.35],[0.05,0.25],[0.15,0.4],[0.1,0.3],[0.05,0.2],[0.15,0.35],[0.1,0.3],[0.2,0.45],[0.1,0.4],[0.3,0.6],[0.4,0.8],[0.3,0.9],[0.5,0.9,1.1,1.3,1.5,1.6,1.8,1.9,2.08,2.3],[0.4,0.7],[0.7,2.82,3.56,4.05,4.2,4.45,4.64,5.32,5.44],[0.2,0.5],[0.1,0.4],[0.3,0.6],[0.05,0.3],[0.15,0.45],[0.1,0.35],[0.2,0.5],[0.05,0.25],0.15],
[[0.3,0.6],[0.5,0.9],[0.7,1.15],[0.4,0.8],[0.3,0.7],[0.5,0.9],[0.8,1.2],[0.9,1.3],[1.0,1.45],[0.7,1.1],[0.6,1.0],[0.8,1.3],[0.9,1.4],[0.6,1.0],[0.4,0.8],[0.3,0.6],[0.2,0.45],[0.1,0.35],[0.2,0.4],[0.05,0.3],[0.15,0.35],[0.1,0.25],[0.05,0.3],[0.15,0.4],[0.05,0.2],[0.1,0.3],[0.2,0.4],[0.05,0.25],[0.1,0.35],[0.02,0.2],[0.1,0.3],[0.05,0.25],[0.15,0.35],[0.05,0.2],[0.1,0.3],0.05],
[[0.1,0.4],[0.2,0.5],[0.3,0.7],[0.4,0.8],[0.5,0.9],[0.6,1.0],[0.8,1.2,1.35],[0.6,1.0],[0.7,1.1],[0.5,0.9],[0.6,0.85],[0.4,0.75],[0.3,0.6],[0.4,0.7],[0.2,0.5],[0.1,0.4],0.2],
[[0.2,0.5],[0.3,0.6],[0.5,0.9],[0.7,1.2],[0.9,1.3,1.47],[0.6,1.0],[0.4,0.8],[0.3,0.6],[0.5,0.7],[0.2,0.5],[0.1,0.4],[0.3,0.55],[0.15,0.4],[0.05,0.3],[0.2,0.45],[0.1,0.35],[0.3,0.55],[0.4,0.7],[0.2,0.5],[0.1,0.35],[0.15,0.4],[0.05,0.3],[0.2,0.45],[0.1,0.3]]
];

// ---------------- LAYOUT ----------------
const SANS = "'Liberation Sans', Arial, sans-serif";
const SERIF = "'Liberation Serif', 'Times New Roman', serif";
const SX = 1.3;
const plotLeft = 64, plotRight = 656;
const gapUnits = 2;
const ptW = 3.8, ptH = 3.3;

const panels = [
  {letter:"A", trait:"SL",  data:lodSL,  ticks:yTicksSL,  fmt:d3.format("d"),   color:"#000000", top:1,   bottom:245,  yDomain:[-0.406,10.98], thresh:true,  letterY:27,  lodX:16, lodY:138,  tickRight:49,   xLabY:280,   titleY:305,  titleX:370},
  {letter:"B", trait:"SW",  data:lodSW,  ticks:yTicksSW,  fmt:d3.format("d"),   color:"#1010f0", top:323, bottom:568,  yDomain:[-0.324,8.22],  thresh:true,  letterY:347, lodX:20, lodY:455,  tickRight:47.5, xLabY:601.5, titleY:628,  titleX:393},
  {letter:"C", trait:"SNF", data:lodSNF, ticks:yTicksSNF, fmt:d3.format(".1f"), color:"#f8a21c", top:644, bottom:889,  yDomain:[-0.1085,2.846],thresh:false, letterY:653, lodX:14, lodY:785,  tickRight:45,   xLabY:921.5, titleY:949,  titleX:370},
  {letter:"D", trait:"HSW", data:lodHSW, ticks:yTicksHSW, fmt:d3.format("d"),   color:"#ee1111", top:971, bottom:1216, yDomain:[-0.221,5.612], thresh:true,  letterY:985, lodX:20, lodY:1102, tickRight:47.5, xLabY:1248,  titleY:1276, titleX:393}
];

const starts = [];
let acc = 0;
groupLengths.forEach(L => { starts.push(acc); acc += L + gapUnits; });
const totalLen = acc - gapUnits;
const x = d3.scaleLinear().domain([-1, totalLen + 1]).range([plotLeft, plotRight]);
const mids = groupLengths.map((L, i) => starts[i] + L / 2);

function flatten(groups) {
  const pts = [], rug = [];
  groups.forEach((slots, c) => {
    const L = groupLengths[c], n = slots.length;
    slots.forEach((s, k) => {
      const pos = starts[c] + (n > 1 ? k * L / (n - 1) : L / 2);
      rug.push(pos);
      (Array.isArray(s) ? s : [s]).forEach(v => pts.push({pos, lod: v}));
    });
  });
  return {pts, rug};
}

const svg = d3.select("#chart");

panels.forEach(p => {
  const y = d3.scaleLinear().domain(p.yDomain).range([p.bottom, p.top]);
  const g = svg.append("g");
  const {pts, rug} = flatten(p.data);

  // points
  g.append("g").selectAll("rect").data(pts).join("rect")
    .attr("x", d => x(d.pos) - ptW / 2).attr("y", d => y(d.lod) - ptH / 2)
    .attr("width", ptW).attr("height", ptH).attr("fill", p.color);

  // rug of marker positions
  g.append("g").selectAll("rect").data(rug).join("rect")
    .attr("x", d => x(d) - 0.65).attr("width", 1.3)
    .attr("y", p.bottom - 5.5).attr("height", 5.5)
    .attr("fill", "#000");

  // threshold
  if (p.thresh) {
    g.append("line").attr("x1", plotLeft).attr("x2", plotRight)
      .attr("y1", y(lodThreshold)).attr("y2", y(lodThreshold))
      .attr("stroke", "#222").attr("stroke-width", 1).attr("stroke-dasharray", "4,3");
  }

  // frame
  g.append("rect").attr("x", plotLeft).attr("y", p.top)
    .attr("width", plotRight - plotLeft).attr("height", p.bottom - p.top)
    .attr("fill", "none").attr("stroke", "#333").attr("stroke-width", 1.2);

  // y axis
  const ya = g.append("g").attr("transform", `translate(${plotLeft},0)`)
    .call(d3.axisLeft(y).tickValues(p.ticks).tickFormat(p.fmt).tickSize(6).tickSizeOuter(0));
  ya.select(".domain").remove();
  ya.selectAll(".tick line").attr("stroke", "#333");
  ya.selectAll(".tick text").attr("x", null).attr("dy", null)
    .attr("font-family", SANS).attr("font-size", 13).attr("fill", "#222")
    .attr("transform", `translate(${p.tickRight - plotLeft},4.7) scale(${SX},1)`);

  // x axis
  const xa = g.append("g").attr("transform", `translate(0,${p.bottom})`)
    .call(d3.axisBottom(x).tickValues(mids).tickFormat((d, i) => linkageGroups[i]).tickSize(7).tickSizeOuter(0));
  xa.select(".domain").remove();
  xa.selectAll(".tick line").attr("stroke", "#333");
  xa.selectAll(".tick text").attr("y", null).attr("dy", null)
    .attr("font-family", SANS).attr("font-size", 13).attr("fill", "#222")
    .attr("transform", `translate(0,${p.xLabY - p.bottom}) scale(${SX},1)`);

  // axis titles
  g.append("text").text("Linkage group")
    .attr("font-family", SERIF).attr("font-size", 23).attr("fill", "#222")
    .attr("text-anchor", "middle")
    .attr("transform", `translate(${p.titleX},${p.titleY}) scale(1.08,1)`);
  const lodFs = 18, lodSX = 1.35;
  g.append("text").text("LOD")
    .attr("font-family", SANS).attr("font-size", lodFs).attr("fill", "#222")
    .attr("text-anchor", "middle")
    .attr("transform", `translate(${p.lodX + 0.716 * lodFs * lodSX / 2},${p.lodY}) scale(${lodSX},1) rotate(-90)`);

  // panel letter
  g.append("text").text(p.letter)
    .attr("font-family", SERIF).attr("font-size", 29).attr("fill", "#111")
    .attr("transform", `translate(0,${p.letterY}) scale(1.12,1)`);

  // legend
  const lg = g.append("g");
  const box = lg.append("rect");
  const txt = lg.append("text").text(p.trait)
    .attr("font-family", SANS).attr("font-size", 8.5).attr("fill", "#222")
    .attr("text-anchor", "end")
    .attr("transform", `translate(650.5,${p.top + 17}) scale(1.12,1)`);
  const w = txt.node().getComputedTextLength() * 1.12;
  const tl = 650.5 - w;
  const mx = tl - 9;
  box.attr("x", mx - 9).attr("y", p.top).attr("width", plotRight - (mx - 9)).attr("height", 26)
    .attr("fill", "#fff").attr("stroke", "#333").attr("stroke-width", 1.2);
  lg.append("rect").attr("x", mx - ptW / 2).attr("y", p.top + 13 - ptH / 2).attr("width", ptW).attr("height", ptH).attr("fill", p.color);
});
</script>
</body></html>
